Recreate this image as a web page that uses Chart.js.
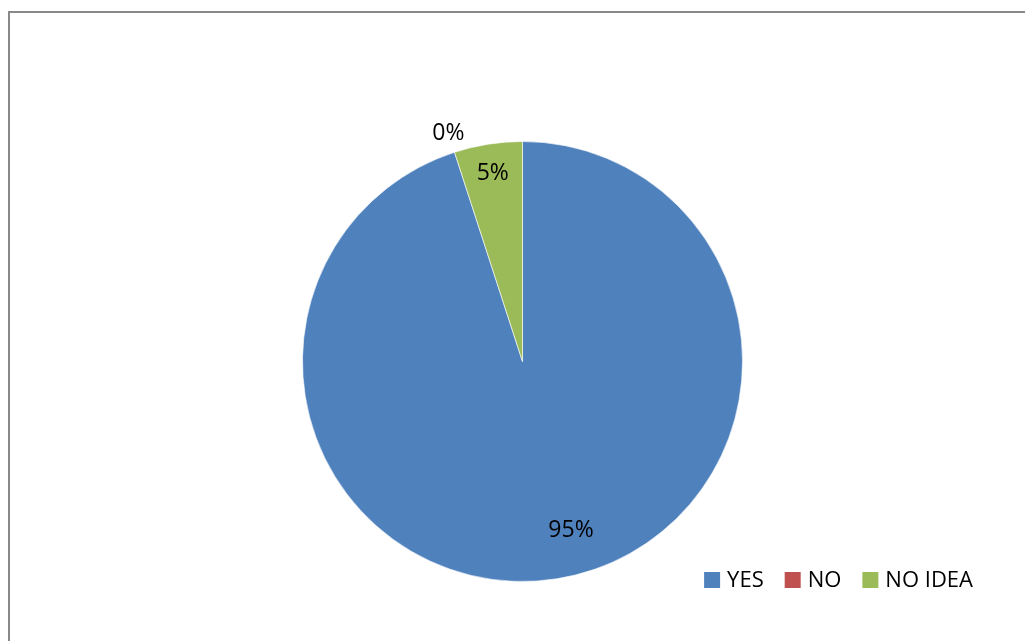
<!DOCTYPE html>
<html>
<head>
<meta charset="utf-8">
<script src="https://cdn.jsdelivr.net/npm/chart.js@4/dist/chart.umd.min.js"></script>
<style>
  html, body { margin: 0; padding: 0; background: #fff; overflow: hidden; }
  #wrap { position: relative; width: 1025px; height: 641px; }
  #frame {
    position: absolute; left: 8px; top: 11px; width: 1100px; height: 700px;
    border-top: 2px solid #898989; border-left: 2px solid #898989;
  }
  #pie { position: absolute; left: 0; top: 0; }
</style>
</head>
<body>
<div id="wrap">
  <div id="frame"></div>
  <canvas id="pie" width="1025" height="641"></canvas>
</div>
<script>
  // answers and their share of responses (percent)
  var answers = ['YES', 'NO', 'NO IDEA'];
  var shares = [95, 0, 5];
  var sliceColors = ['#4F81BD', '#C0504D', '#9BBB59'];

  var FONT = "'Open Sans', sans-serif";

  /* percent labels: distance from centre as a fraction of the radius,
     plus a small angular nudge (degrees) for the big slice */
  var pctLabels = {
    id: 'pctLabels',
    afterDatasetsDraw: function (chart, args, opts) {
      var ctx = chart.ctx;
      var meta = chart.getDatasetMeta(0);
      var data = chart.data.datasets[0].data;
      ctx.save();
      ctx.font = opts.size + 'px ' + FONT;
      ctx.fillStyle = '#000';
      ctx.textAlign = 'center';
      ctx.textBaseline = 'middle';
      meta.data.forEach(function (arc, i) {
        var p = arc.getProps(['x', 'y', 'startAngle', 'endAngle', 'outerRadius'], true);
        var mid = (p.startAngle + p.endAngle) / 2 + (opts.nudge[i] || 0) * Math.PI / 180;
        var r = p.outerRadius * opts.dist[i];
        ctx.fillText(data[i] + '%', p.x + Math.cos(mid) * r, p.y + Math.sin(mid) * r);
      });
      ctx.restore();
    }
  };

  // legend row in the bottom-right corner, right edge at opts.right
  var cornerLegend = {
    id: 'cornerLegend',
    afterDraw: function (chart, args, opts) {
      var ctx = chart.ctx;
      var labels = chart.data.labels;
      var colors = chart.data.datasets[0].backgroundColor;
      ctx.save();
      ctx.font = opts.size + 'px ' + FONT;
      ctx.textBaseline = 'middle';
      var widths = labels.map(function (t) { return ctx.measureText(t).width; });
      var total = 0;
      widths.forEach(function (w) { total += opts.box + opts.gap + w; });
      total += opts.spacing * (labels.length - 1);
      var x = opts.right - total;
      labels.forEach(function (t, i) {
        ctx.fillStyle = colors[i];
        ctx.fillRect(x, opts.y - opts.box / 2, opts.box, opts.box);
        x += opts.box + opts.gap;
        ctx.fillStyle = '#000';
        ctx.fillText(t, x, opts.y + 1);
        x += widths[i] + opts.spacing;
      });
      ctx.restore();
    }
  };

  new Chart(document.getElementById('pie').getContext('2d'), {
    type: 'pie',
    data: {
      labels: answers,
      datasets: [{
        data: shares,
        backgroundColor: sliceColors,
        borderColor: 'rgba(255,255,255,0.6)',
        borderWidth: 1
      }]
    },
    options: {
      responsive: false,
      animation: false,
      layout: { padding: { left: 302, right: 282, top: 141, bottom: 59 } },
      plugins: {
        legend: { display: false },
        tooltip: { enabled: false },
        pctLabels: { size: 23, dist: [0.8, 1.09, 0.865], nudge: [-7, 0, 0] },
        cornerLegend: { size: 22, box: 16, gap: 7, spacing: 21, right: 973, y: 580 }
      }
    },
    plugins: [pctLabels, cornerLegend]
  });
</script>
</body>
</html>
